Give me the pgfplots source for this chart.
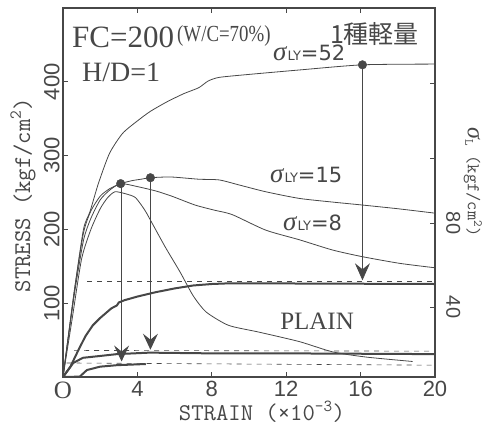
\documentclass[border=0pt]{standalone}
\usepackage{fontspec}
\setmainfont{Liberation Serif}
\setsansfont{Liberation Sans}
\newfontfamily\cjk{Noto Sans CJK JP}
\newfontfamily\dvs{DejaVu Sans}
\usepackage{pgfplots}
\pgfplotsset{compat=1.18}
\usetikzlibrary{arrows.meta}
\definecolor{ink}{HTML}{474747}
\newcommand{\slab}[1]{{\fontsize{27}{27}\selectfont\itshape σ}\hspace{1pt}{\dvs\fontsize{13}{13}\selectfont LY}{\dvs\fontsize{21}{21}\selectfont =#1}}
\begin{document}
\begin{tikzpicture}
\path[use as bounding box] (0,0) rectangle (491pt,430pt);
\begin{axis}[
  at={(63pt,53pt)}, anchor=south west,
  width=372pt, height=369pt, scale only axis,
  xmin=0, xmax=20, ymin=0, ymax=500,
  axis line style={ink, line width=1.2pt},
  xtick={0,4,8,12,16,20},
  xticklabels={{\rmfamily\fontsize{25}{25}\selectfont O},4,8,12,16,20},
  ytick={100,200,300,400}, yticklabels={100,200,300,400},
  ytick pos=left,
  tick style={ink, line width=0.8pt},
  major tick length=5pt,
  xticklabel style={font=\sffamily\fontsize{22}{22}\selectfont, text=ink, yshift=-1pt},
  yticklabel style={font=\sffamily\fontsize{22}{22}\selectfont, text=ink, rotate=90, anchor=south},
  xlabel={STRAIN (×10\textsuperscript{-3})},
  every axis x label/.style={at={(rel axis cs:0.535,-0.095)}, anchor=center, font=\ttfamily\fontsize{24}{24}\selectfont, text=ink},
  ylabel={STRESS (kgf/cm\textsuperscript{2})},
  every axis y label/.style={at={(rel axis cs:-0.1075,0.493)}, anchor=center, rotate=90, font=\ttfamily\fontsize{24}{24}\selectfont, text=ink},
]
% sigma_LY = 52
\addplot[ink, line width=0.8pt, smooth, tension=0.4] coordinates {
(0,0)(0.6,115)(1.1,200)(1.45,224)(1.9,262)(2.5,303)(3.2,330)(4,347)(4.7,360)(5.6,373)(6.5,384)(7.3,392)(7.8,401)(8.4,406)(10,410)(12.7,416)(16.1,423)(20,424)};
% sigma_LY = 15
\addplot[ink, line width=0.8pt, smooth, tension=0.4] coordinates {
(0,0)(0.6,115)(1.1,195)(1.5,225)(2.0,245)(2.5,255)(3.1,262)(3.7,266)(4.2,268)(4.7,270)(5.8,271)(7.3,268)(8.4,267)(9.5,260)(10.9,251)(12.7,242)(14.5,237)(16.1,233)(18,228)(20,222)};
% sigma_LY = 8
\addplot[ink, line width=0.8pt, smooth, tension=0.4] coordinates {
(0,0)(0.6,110)(1.1,185)(1.5,215)(2.0,240)(2.5,253)(3.1,262)(4,258)(5,252)(5.85,245)(7.1,233)(8.15,226)(9.1,220)(10.9,199)(12.7,186)(14.5,172)(16.1,163)(18.1,154)(20,148)};
% PLAIN
\addplot[ink, line width=0.8pt, smooth, tension=0.4] coordinates {
(0,0)(0.5,80)(1.0,160)(1.5,200)(2.0,228)(2.4,243)(2.8,251)(3.4,248)(3.9,243)(4.4,226)(4.8,208)(5.5,176)(6.3,142)(7.0,110)(7.7,88)(8.9,70)(10.5,61)(12.7,48)(14.5,34)(16.3,27)(18.8,21)};
% dashed reference lines
\addplot[ink, line width=0.6pt, dash pattern=on 5pt off 5pt] coordinates {(1.3,129)(20,129)};
\addplot[ink, line width=0.6pt, dash pattern=on 5pt off 5pt] coordinates {(0.6,36)(20,35)};
\addplot[ink, line width=0.6pt, dash pattern=on 5pt off 5pt] coordinates {(0.2,19)(20,16)};
% lateral stress curves (thick)
\addplot[ink, line width=2pt] coordinates {
(0,0)(0.4,14)(0.8,35)(1.2,55)(1.6,70)(2.0,80)(2.6,93)(2.9,97)(3.0,101)(3.3,104)(4,109)(5,115)(6,120)(7,124)(8,126)(9,127)(20,126)};
\addplot[ink, line width=2pt] coordinates {
(0,0)(0.55,19)(1.07,26)(2,28.5)(2.9,31)(4.66,33)(8,32)(12,32)(20,31)};
\addplot[ink, line width=2pt] coordinates {
(0,0)(0.9,0.5)(1.29,9.5)(2,14)(2.9,16)(4.45,17.6)};
% arrows and peak markers
\addplot[ink, line width=0.8pt, -{Stealth[length=16pt,width=15pt,inset=6pt]}] coordinates {(3.15,262)(3.15,21)};
\addplot[ink, line width=0.8pt, -{Stealth[length=16pt,width=15pt,inset=6pt]}] coordinates {(4.7,270)(4.7,37)};
\addplot[ink, line width=0.8pt, -{Stealth[length=17pt,width=15pt,inset=6pt]}] coordinates {(16.1,423)(16.1,131)};
\addplot[ink, only marks, mark=*, mark size=4.3pt] coordinates {(3.1,262)(4.7,270)(16.1,423)};
% texts
\node[anchor=base west, text=ink, font=\fontsize{31}{31}\selectfont, inner sep=0pt] at (axis cs:0.48,447) {FC=200};
\node[anchor=base west, text=ink, font=\fontsize{23}{23}\selectfont, inner sep=0pt, xscale=0.82] at (axis cs:6.13,454) {(W/C=70\%)};
\node[anchor=base west, text=ink, font=\fontsize{28}{28}\selectfont, inner sep=0pt] at (axis cs:1.02,400) {H/D=1};
\node[anchor=base west, text=ink, font=\cjk\fontsize{25}{25}\selectfont, inner sep=0pt] at (axis cs:14.35,452) {1種軽量};
\node[anchor=base west, text=ink, inner sep=0pt] at (axis cs:11.29,429.5) {\slab{52}};
\node[anchor=base west, text=ink, inner sep=0pt] at (axis cs:11.13,263) {\slab{15}};
\node[anchor=base west, text=ink, inner sep=0pt] at (axis cs:11.83,199) {\slab{8}};
\node[anchor=base west, text=ink, font=\fontsize{25}{25}\selectfont, inner sep=0pt] at (axis cs:11.67,63.7) {PLAIN};
\end{axis}
\begin{axis}[
  at={(63pt,53pt)}, anchor=south west,
  width=372pt, height=369pt, scale only axis,
  xmin=0, xmax=20, ymin=6.67, ymax=182.4,
  hide x axis,
  axis line style={draw=none},
  ytick pos=right,
  ytick={40,80,111,146.7}, yticklabels={40,80,{},{}},
  tick style={ink, line width=0.8pt},
  major tick length=5pt,
  yticklabel style={font=\sffamily\fontsize{20}{20}\selectfont, text=ink, rotate=-90, anchor=south, inner sep=11pt},
  ylabel={{\rmfamily\itshape\fontsize{24}{24}\selectfont σ}\textsubscript{L} (kgf/cm\textsuperscript{2})},
  every axis y label/.style={at={(rel axis cs:1.102,0.528)}, anchor=center, rotate=-90, font=\ttfamily\fontsize{18}{18}\selectfont, text=ink},
]
\end{axis}
\end{tikzpicture}
\end{document}
